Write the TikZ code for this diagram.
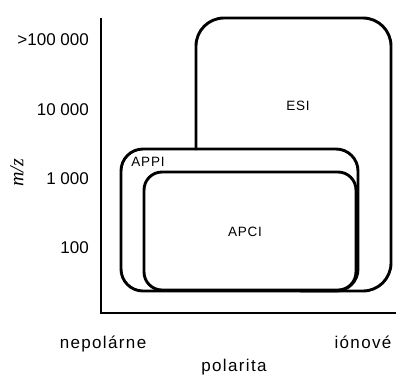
\documentclass[tikz,border=0pt]{standalone}
\usepackage{fontspec}
\setmainfont{Liberation Sans}
\newfontfamily\mzfont{Liberation Serif}
\newfontfamily\spacedfont[LetterSpace=8]{Liberation Sans}
\newfontfamily\boxfont[LetterSpace=6]{Liberation Sans}
\begin{document}
\begin{tikzpicture}[x=1pt,y=-1pt,
  axisline/.style={line width=2.9pt},
  region/.style={line width=2.9pt},
  ticklabel/.style={anchor=east,inner sep=0pt,font=\fontsize{17}{19}\selectfont},
  axislabel/.style={anchor=base,inner sep=0pt,font=\fontsize{17}{19}\spacedfont},
  boxlabel/.style={inner sep=0pt,font=\fontsize{13.5}{15}\boxfont}]
\useasboundingbox (0,0) rectangle (396,376);
% axes
\draw[axisline] (101,18) -- (101,313) -- (396,313);
% ESI region outline
\draw[region,rounded corners=28pt] (196,150) -- (196,18) -- (391,18) -- (391,291) -- (300,291);
% APPI
\draw[region,rounded corners=22pt] (121,149) rectangle (358,291);
% APCI
\draw[region,rounded corners=18pt] (144,172) rectangle (356,290);
% labels
\node[boxlabel] (esi) at (298,106) {ESI};
\node[boxlabel] (appi) at (148,162) {APPI};
\node[boxlabel] (apci) at (245,232) {APCI};
\node[ticklabel] (t1) at (89,40) {>100 000};
\node[ticklabel] (t2) at (89,110) {10 000};
\node[ticklabel] (t3) at (89,179) {1 000};
\node[ticklabel] (t4) at (89,248) {100};
\node[rotate=90,inner sep=0pt,font=\fontsize{20}{22}\selectfont\mzfont\itshape] (mz) at (17,173) {m/z};
\node[axislabel] (np) at (103,348) {nepolárne};
\node[axislabel] (io) at (363,348) {iónové};
\node[axislabel] (pol) at (234,371) {polarita};
\end{tikzpicture}
\end{document}
